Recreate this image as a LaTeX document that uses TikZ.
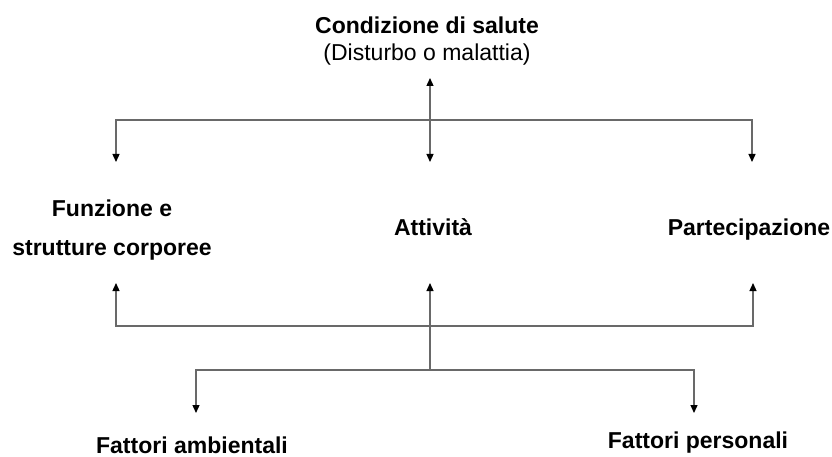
\documentclass[tikz,border=0pt]{standalone}
\usepackage{fontspec}
\setmainfont{Liberation Sans}
\usetikzlibrary{arrows.meta}

\begin{document}
\begin{tikzpicture}[x=1pt, y=-1pt,
  heading/.style={font=\bfseries\fontsize{23}{39}\selectfont, inner sep=0pt, align=center},
  link/.style={linegray, line width=1.3pt},
  arrowed/.style={-{Triangle[width=7pt,length=8pt,color=black]}}]

% === Colors ===
\definecolor{linegray}{RGB}{105,105,105}

\useasboundingbox (0,0) rectangle (832,457);

% === Health condition ===
\node[heading, font=\fontsize{23}{27}\selectfont] (salute) at (427,41)
  {\textbf{Condizione di salute}\\(Disturbo o malattia)};

% === Components ===
\node[heading] (funzione) at (112,230) {Funzione e\\strutture corporee};
\node[heading, anchor=base] (attivita) at (433,235) {Attività};
\node[heading, anchor=base] (partecip) at (749,235) {Partecipazione};

% === Contextual factors ===
\node[heading, anchor=base] (ambient) at (192,453) {Fattori ambientali};
\node[heading, anchor=base] (personal) at (698,448) {Fattori personali};

% === Junctions and arrow ends ===
\coordinate (hubtop) at (430,120);
\coordinate (hubmid) at (430,326);
\coordinate (hubbot) at (430,370);
\foreach \name/\x/\y in {
  tsal/430/78, tfun/116/162, tatt/430/162, tpar/752/162,
  bfun/116/283, batt/430/283, bpar/753/283,
  tamb/196/413, tper/694/413
}{
  \coordinate (\name) at (\x,\y);
}

% === Upper branch ===
\draw[link, arrowed] (hubtop) -- (tsal);
\draw[link, arrowed] (hubtop) -- (tatt);
\draw[link, arrowed] (hubtop) -| (tfun);
\draw[link, arrowed] (hubtop) -| (tpar);

% === Lower branch ===
\draw[link, arrowed] (hubmid) -- (batt);
\draw[link, arrowed] (hubmid) -| (bfun);
\draw[link, arrowed] (hubmid) -| (bpar);
\draw[link] (hubmid) -- (hubbot);
\draw[link, arrowed] (hubbot) -| (tamb);
\draw[link, arrowed] (hubbot) -| (tper);

\end{tikzpicture}
\end{document}
